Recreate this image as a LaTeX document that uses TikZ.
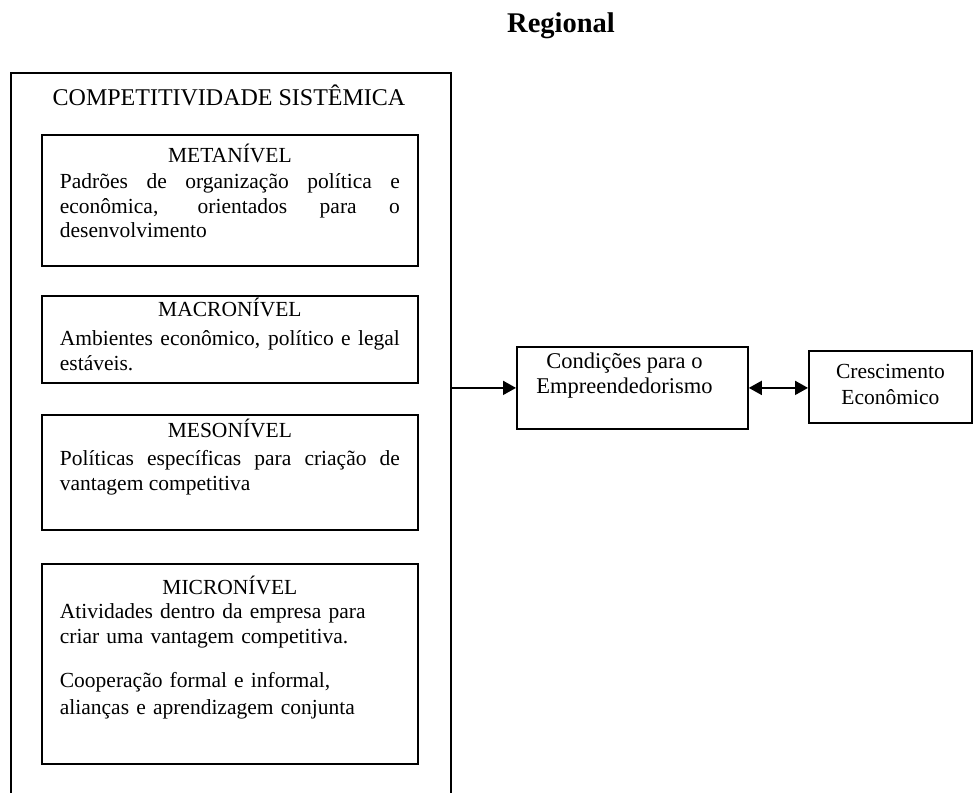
\documentclass[tikz,border=0pt]{standalone}
\usepackage{fontspec}
\setmainfont{Liberation Serif}
\usetikzlibrary{arrows.meta}

\begin{document}
\begin{tikzpicture}[x=1pt,y=-1pt,
    box/.style={draw, line width=1.8pt, anchor=north west, inner sep=0pt},
    txt/.style={anchor=base, inner sep=0pt, font=\fontsize{21.5}{24.5}\selectfont},
    level/.style={txt, text width=340pt, align=justify},
    link/.style={line width=1.8pt, -{Triangle[length=13pt,width=14pt]}},
    dlink/.style={line width=1.8pt, {Triangle[length=13pt,width=14pt]}-{Triangle[length=13pt,width=14pt]}}]
    \useasboundingbox (0,0) rectangle (973,792);
    \clip (0,0) rectangle (973,792);

    % boxes
    \node[box, minimum width=440pt, minimum height=740pt] (comp) at (10,72) {};
    \node[box, minimum width=376pt, minimum height=131pt] (meta) at (41,134) {};
    \node[box, minimum width=376pt, minimum height=87pt] (macro) at (41,295) {};
    \node[box, minimum width=376pt, minimum height=115pt] (meso) at (41,414) {};
    \node[box, minimum width=376pt, minimum height=200pt] (micro) at (41,563) {};
    \node[box, minimum width=231pt, minimum height=82pt] (cond) at (516,346) {};
    \node[box, minimum width=163pt, minimum height=72pt] (cresc) at (808,350) {};

    % texts
    \node[txt, font=\bfseries\fontsize{28.5}{32}\selectfont] (regional) at (561,33) {Regional};
    \node[txt, font=\fontsize{24}{28}\selectfont] (comp-title) at (229,105) {COMPETITIVIDADE SISTÊMICA};
    \node[level] (meta-txt) at ([yshift=-28pt]meta.north)
        {{\centering METANÍVEL\par}\vspace{2pt}
         Padrões de organização política e\linebreak
         econômica, orientados para o\linebreak
         desenvolvimento};
    \node[level] (macro-txt) at ([yshift=-21pt]macro.north)
        {{\centering MACRONÍVEL\par}\vspace{5pt}
         Ambientes econômico, político e legal\linebreak
         estáveis.};
    \node[level] (meso-txt) at ([yshift=-23pt]meso.north)
        {{\centering MESONÍVEL\par}\vspace{4pt}
         Políticas específicas para criação de\linebreak
         vantagem competitiva};
    \node[level, align=left] (micro-txt) at ([yshift=-31pt]micro.north)
        {{\centering MICRONÍVEL\par}
         Atividades dentro da empresa para\\
         criar uma vantagem competitiva.\\[19.5pt]
         Cooperação formal e informal,\\[3pt]
         alianças e aprendizagem conjunta};
    \node[txt, align=center, font=\fontsize{22.5}{24.5}\selectfont] (cond-txt) at ([xshift=-8pt,yshift=-47pt]cond.north)
        {Condições para o\\Empreendedorismo};
    \node[txt, align=center, font=\fontsize{21.5}{26}\selectfont] (cresc-txt) at ([yshift=-54pt]cresc.north)
        {Crescimento\\Econômico};

    % connectors
    \draw[link] (comp.east |- cond.west) -- (cond.west);
    \draw[dlink] (cond.east) -- (cond.east -| cresc.west);
\end{tikzpicture}
\end{document}
